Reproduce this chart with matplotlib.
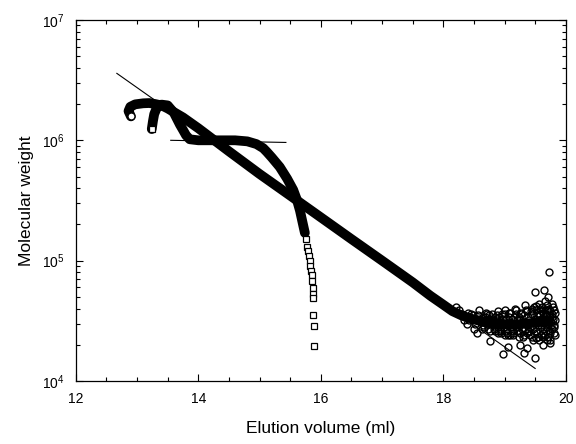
import numpy as np
import matplotlib
matplotlib.use('Agg')
import matplotlib.pyplot as plt
from matplotlib.ticker import MultipleLocator, LogLocator

plt.rcParams['font.family'] = ['Liberation Sans', 'DejaVu Sans']

# circle series: dense band (centre line)
circ_x = [12.90, 12.86, 12.89, 12.97, 13.10, 13.20, 13.30, 13.40, 13.50, 13.75, 14.00,
          14.50, 15.00, 15.50, 16.00, 16.50, 17.00, 17.50, 17.79, 18.00,
          18.15, 18.30, 18.45, 18.60, 18.75, 18.90, 19.05, 19.20, 19.35, 19.50, 19.62, 19.72]
circ_y = [1.58e6, 1.75e6, 1.90e6, 1.99e6, 2.03e6, 2.04e6, 2.00e6, 1.95e6, 1.84e6, 1.55e6, 1.26e6,
          8.1e5, 5.25e5, 3.47e5, 2.29e5, 1.51e5, 1.0e5, 6.6e4, 5.1e4, 4.3e4,
          3.8e4, 3.5e4, 3.3e4, 3.15e4, 3.05e4, 3.0e4, 2.95e4, 2.95e4, 3.0e4, 3.05e4, 3.1e4, 3.1e4]

# circle series: scattered tail (values x 1e4)
tail_x = [18.30, 18.35, 18.40, 18.42, 18.48, 18.52, 18.55, 18.59, 18.60, 18.64, 18.68, 18.71,
          18.73, 18.76, 18.78, 18.82, 18.85, 18.87, 18.90, 18.92, 18.94, 18.96, 18.98, 19.00,
          19.02, 19.04, 19.06, 19.07, 19.09, 19.11, 19.13, 19.15, 19.17, 19.19, 19.21, 19.23,
          19.25, 19.27, 19.29, 19.31, 19.33, 19.34, 19.36, 19.37, 19.39, 19.41, 19.43, 19.45,
          19.46, 19.48, 19.50, 19.50, 19.51, 19.52, 19.53, 19.55, 19.56, 19.58, 19.59, 19.60,
          19.62, 19.63, 19.64, 19.65, 19.66, 19.67, 19.68, 19.69, 19.70, 19.71, 19.72, 19.73,
          19.74, 19.75, 19.76, 19.77, 19.78, 19.80, 19.82, 19.83,
          18.62, 18.65, 18.67, 18.70, 18.72, 18.75, 18.77, 18.79, 18.81, 18.83, 18.86, 18.88,
          18.89, 18.91, 18.93, 18.95, 18.97, 18.99, 19.01, 19.03, 19.05, 19.06, 19.08, 19.10,
          19.12, 19.14, 19.16, 19.18, 19.20, 19.22, 19.24, 19.26, 19.28, 19.30, 19.32, 19.34,
          19.35, 19.38, 19.40, 19.42, 19.44, 19.46, 19.47, 19.49, 19.51, 19.53, 19.54, 19.56,
          19.57, 19.59, 19.61, 19.62, 19.64, 19.66, 19.67, 19.69, 19.70, 19.71, 19.72, 19.74,
          19.75, 19.76, 19.78, 19.79, 19.81, 19.82,
          18.20, 18.25, 18.33, 18.38, 18.45, 18.50, 18.57, 18.63, 18.69, 18.74, 18.80, 18.84,
          18.90, 18.95, 19.00, 19.04, 19.09, 19.13, 19.18, 19.22, 19.27, 19.31, 19.36, 19.40,
          19.44, 19.48, 19.52, 19.55, 19.58, 19.61, 19.63, 19.66, 19.68, 19.70, 19.73, 19.75,
          19.77, 19.79, 19.80, 19.81]
tail_y = [3.6, 3.4, 3.7, 3.2, 3.5, 3.0, 2.5, 3.9, 3.3, 2.9, 3.4, 3.6,
          2.7, 2.15, 3.2, 2.9, 3.4, 3.5, 2.6, 2.7, 3.1, 3.6, 1.66, 2.4,
          3.3, 2.9, 1.92, 3.7, 2.4, 3.0, 2.6, 3.4, 4.0, 2.8, 3.2, 2.3,
          1.99, 3.6, 2.7, 1.71, 4.3, 3.0, 2.5, 1.89, 3.4, 2.8, 3.8, 2.3,
          3.1, 4.1, 5.5, 1.56, 2.6, 2.26, 3.5, 2.9, 4.4, 4.0, 2.4, 3.3,
          2.0, 3.7, 5.7, 2.7, 4.6, 3.0, 3.1, 2.2, 3.9, 5.0, 2.6, 8.1,
          2.06, 3.4, 2.9, 4.4, 3.6, 2.5, 2.41, 3.2,
          3.1, 3.4, 2.8, 3.2, 3.0, 3.5, 2.6, 3.0, 3.3, 2.7, 3.0, 3.2,
          2.5, 3.4, 2.9, 2.6, 3.3, 2.8, 3.6, 2.6, 3.1, 2.4, 3.4, 2.8,
          3.3, 2.5, 3.0, 3.6, 2.6, 2.9, 3.4, 2.5, 3.1, 2.3, 3.5, 2.7,
          3.9, 2.6, 3.2, 2.4, 3.6, 2.7, 2.2, 3.3, 3.9, 2.5, 3.2, 2.2,
          3.6, 2.9, 3.8, 2.5, 3.3, 2.4, 3.6, 2.8, 4.3, 2.3, 3.3, 3.8,
          2.5, 3.1, 2.7, 3.3, 2.9, 3.7,
          4.1, 3.9, 3.2, 3.0, 3.6, 2.7, 3.5, 2.7, 3.7, 3.3, 3.6, 2.6,
          3.8, 2.5, 3.9, 2.5, 3.7, 2.4, 3.9, 2.6, 3.7, 2.4, 3.8, 2.6,
          4.0, 2.5, 4.2, 2.3, 3.5, 4.1, 2.3, 3.9, 2.6, 3.5, 4.0, 2.2,
          3.4, 4.1, 2.8, 3.9]
tail_y = [v * 1e4 for v in tail_y]

# square series: dense band
sq_x = [13.24, 13.26, 13.28, 13.32, 13.40, 13.50, 13.60, 13.70, 13.75, 13.80, 13.86, 14.00,
        14.20, 14.40, 14.60, 14.80, 14.95, 15.06, 15.12, 15.20, 15.33, 15.45, 15.55,
        15.61, 15.66, 15.70, 15.74]
sq_y = [1.24e6, 1.45e6, 1.65e6, 1.85e6, 1.98e6, 1.95e6, 1.70e6, 1.35e6, 1.22e6, 1.10e6, 1.02e6, 1.0e6,
        1.0e6, 1.0e6, 1.0e6, 9.8e5, 9.3e5, 8.6e5, 8.0e5, 7.2e5, 6.0e5, 4.8e5, 3.87e5,
        3.2e5, 2.6e5, 2.1e5, 1.7e5]

# square series: separate points at the foot
sqs_x = [15.76, 15.78, 15.79, 15.80, 15.82, 15.83, 15.84, 15.85, 15.86, 15.87, 15.88, 15.88,
         15.87, 15.89, 15.89]
sqs_y = [1.5e5, 1.3e5, 1.2e5, 1.1e5, 1.0e5, 9.0e4, 8.2e4, 7.6e4, 6.8e4, 5.9e4, 5.3e4, 4.9e4,
         3.5e4, 2.85e4, 1.95e4]

# fitted lines
fit1_x = [12.67, 19.50]
fit1_y = [3.6e6, 1.27e4]
fit2_x = [13.55, 15.43]
fit2_y = [1.0e6, 9.6e5]

fig = plt.figure(figsize=(5.76, 4.44), dpi=100)
ax = fig.add_axes([0.1316, 0.142, 0.8507, 0.813])

band = dict(color='k', lw=7, solid_capstyle='round', solid_joinstyle='round')
ax.plot(circ_x, circ_y, '-', **band)
ax.plot(sq_x, sq_y, '-', **band)
ax.plot(circ_x[:1], circ_y[:1], 'o', ms=5, mfc='white', mec='k', mew=0.9)
ax.plot(sq_x[:1], sq_y[:1], 's', ms=5, mfc='white', mec='k', mew=0.9)
ax.plot(tail_x, tail_y, 'o', ms=5, mfc='none', mec='k', mew=1.0)
ax.plot(sqs_x, sqs_y, 's', ms=5, mfc='white', mec='k', mew=0.9)
ax.plot(fit1_x, fit1_y, '-', color='k', lw=0.8)
ax.plot(fit2_x, fit2_y, '-', color='k', lw=0.8)

ax.set_yscale('log')
ax.set_xlim(12, 20)
ax.set_ylim(1e4, 1e7)
ax.xaxis.set_major_locator(MultipleLocator(2))
ax.xaxis.set_minor_locator(MultipleLocator(0.5))
ax.yaxis.set_minor_locator(LogLocator(base=10, subs=np.arange(2, 10)))

ax.tick_params(which='both', direction='in', top=True, right=True, labelsize=10, pad=8)
ax.tick_params(which='major', length=5, width=0.8)
ax.tick_params(which='minor', length=3, width=0.8)
for s in ax.spines.values():
    s.set_linewidth(0.9)

ax.set_xlabel('Elution volume (ml)', fontsize=12.5, labelpad=11)
ax.set_ylabel('Molecular weight', fontsize=12.5, labelpad=6)

fig.savefig('out.png', dpi=100)
